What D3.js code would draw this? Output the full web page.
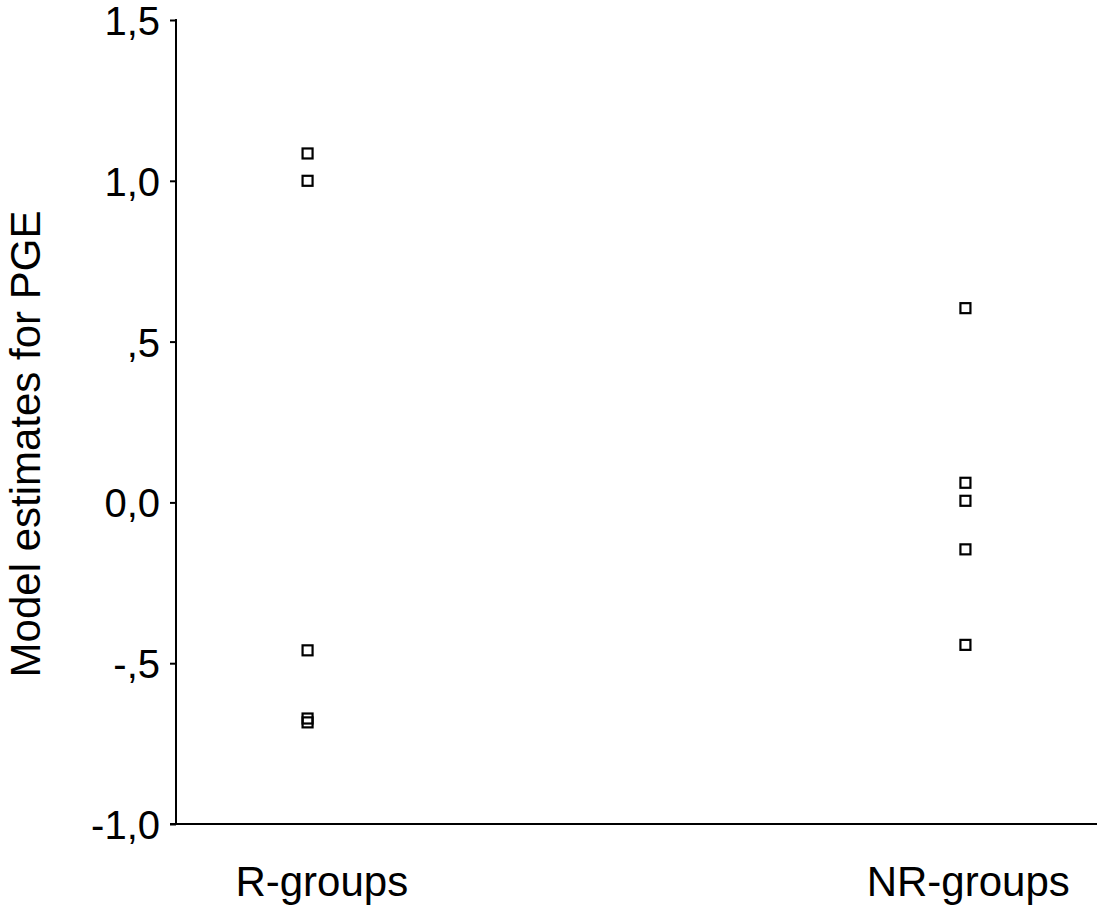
<!DOCTYPE html>
<html>
<head>
<meta charset="utf-8">
<script src="https://cdn.jsdelivr.net/npm/d3@7"></script>
<style>
  body { margin: 0; background: #fff; }
  svg text { font-family: "Liberation Sans", Arial, sans-serif; fill: #000; }
</style>
</head>
<body>
<svg id="chart" width="1098" height="917"></svg>
<script>
// categories and the model estimates
var groups = ['R-groups', 'NR-groups'];
var rValues = [1.085, 1.0, -0.46, -0.672, -0.684];
var nrValues = [0.604, 0.061, 0.005, -0.146, -0.443];
var yTicks = [-1.0, -0.5, 0.0, 0.5, 1.0, 1.5];
var yTickLabels = ['-1,0', '-,5', '0,0', ',5', '1,0', '1,5'];
var yTitle = 'Model estimates for PGE';

var points = [];
rValues.forEach(function(v) { points.push({ group: 'R-groups', value: v }); });
nrValues.forEach(function(v) { points.push({ group: 'NR-groups', value: v }); });

var svg = d3.select('#chart');
var margin = { top: 20, right: 1, bottom: 93, left: 176 };
var width = +svg.attr('width');
var height = +svg.attr('height');

var x = d3.scalePoint()
  .domain(groups)
  .range([margin.left, width - margin.right])
  .padding(0.2);

// the category labels sit a little right of the markers
var xLabel = d3.scalePoint()
  .domain(groups)
  .range([margin.left + 16, width - margin.right])
  .padding(0.2);

var y = d3.scaleLinear()
  .domain([-1, 1.5])
  .range([height - margin.bottom, margin.top]);

// y axis
var yAxis = d3.axisLeft(y)
  .tickValues(yTicks)
  .tickSize(6)
  .tickPadding(10)
  .tickFormat(function(d, i) { return yTickLabels[i]; });

var gy = svg.append('g')
  .attr('transform', 'translate(' + margin.left + ',0)')
  .call(yAxis);
gy.select('.domain').remove();
gy.selectAll('.tick line').attr('stroke', '#000').attr('stroke-width', 2);
gy.selectAll('.tick text')
  .style('font-size', '40px')
  .attr('dy', '0.36em');
gy.append('line')
  .attr('x1', 0).attr('x2', 0)
  .attr('y1', y(1.5) - 1).attr('y2', y(-1) + 1)
  .attr('stroke', '#000').attr('stroke-width', 2);

// x axis: baseline only, category labels below
var xAxis = d3.axisBottom(xLabel).tickSize(0).tickPadding(42);
var gx = svg.append('g')
  .attr('transform', 'translate(0,' + y(-1) + ')')
  .call(xAxis);
gx.select('.domain').remove();
gx.selectAll('.tick text').style('font-size', '42px');
gx.append('line')
  .attr('x1', margin.left - 6).attr('x2', width - margin.right)
  .attr('y1', 0).attr('y2', 0)
  .attr('stroke', '#000').attr('stroke-width', 2);

// axis title
svg.append('text')
  .attr('transform', 'translate(40,' + 444 + ') rotate(-90)')
  .attr('text-anchor', 'middle')
  .style('font-size', '42px')
  .text(yTitle);

// markers
var size = 10;
svg.append('g').selectAll('rect')
  .data(points)
  .enter().append('rect')
  .attr('x', function(d) { return x(d.group) - size / 2; })
  .attr('y', function(d) { return y(d.value) - size / 2; })
  .attr('width', size)
  .attr('height', size)
  .attr('fill', 'none')
  .attr('stroke', '#000')
  .attr('stroke-width', 2.2);
</script>
</body>
</html>
